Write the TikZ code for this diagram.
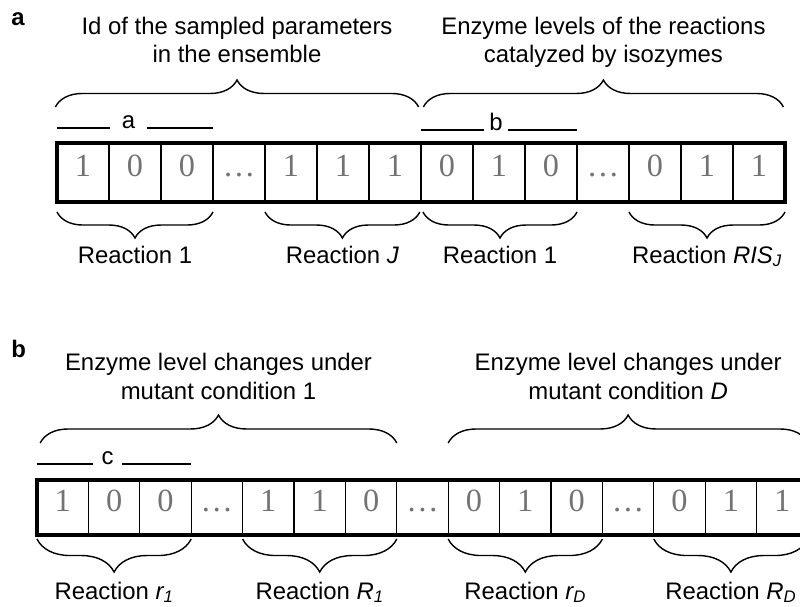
\documentclass[tikz,border=0pt]{standalone}
\usepackage{fontspec}
\setmainfont{Liberation Sans}
\newfontfamily\digitfont{Liberation Serif}
\usetikzlibrary{positioning,decorations.pathreplacing}
\definecolor{cellgray}{RGB}{115,115,115}

\tikzset{
  cell/.style={draw,line width=0.9pt,inner sep=0pt,outer sep=0pt,
    font=\digitfont\fontsize{23}{23}\selectfont,text=cellgray,
    text height=0.68em,text depth=0.15em},
  outline/.style={line width=2.2pt},
  curly/.style={decorate,decoration={brace,amplitude=#1},line width=1pt},
  title/.style={align=center,inner sep=0pt,text depth=0pt},
  reaction/.style={inner sep=0pt,anchor=base},
  tag/.style={inner xsep=#1,inner ysep=0pt,anchor=base},
  panel/.style={inner sep=0pt,anchor=base west,font=\bfseries\fontsize{17}{20}\selectfont},
  rule/.style={line width=0.9pt},
}

\begin{document}
\begin{tikzpicture}[x=0.025cm,y=-0.025cm,font=\fontsize{17}{20}\selectfont]
\useasboundingbox (0,0) rectangle (800,606);
% panel a
\node[panel] (pa) at (11,25) {a};
\foreach \v [count=\i] in {1,0,0,\dots,1,1,1,0,1,0,\dots,0,1,1}
  \node[cell,minimum width=1.3cm,minimum height=1.475cm] (ca\i) at ({31+52*\i},172.5) {\v};
\draw[outline] (ca1.north west) rectangle (ca14.south east);
% braces above row a
\draw[curly=0.675cm] ([xshift=-0.04cm,yshift=0.9cm]ca1.north west) -- ([xshift=-0.06cm,yshift=0.9cm]ca7.north east)
  node[title,midway,above=1.1cm] {Id of the sampled parameters\\in the ensemble};
\draw[curly=0.675cm] ([xshift=0.06cm,yshift=0.9cm]ca8.north west) -- ([xshift=-0.04cm,yshift=0.9cm]ca14.north east)
  node[title,midway,above=1.1cm] {Enzyme levels of the reactions\\catalyzed by isozymes};
% a, b
\node[tag=0.3cm] (la) at (128.5,128) {a};
\draw[rule] (ca1.west |- la.base) -- (la.base west) (la.base east) -- (ca3.east |- la.base);
\node[tag=0.13cm] (lb) at (496,130) {b};
\draw[rule] (ca8.west |- lb.base) -- (lb.base west) (lb.base east) -- (ca10.east |- lb.base);
% braces below row a
\draw[curly=0.65cm] ([yshift=-0.25cm]ca3.south east) -- ([yshift=-0.25cm]ca1.south west)
  node[reaction,midway,yshift=-1.275cm] {Reaction 1};
\draw[curly=0.65cm] ([xshift=-0.03cm,yshift=-0.25cm]ca7.south east) -- ([yshift=-0.25cm]ca5.south west)
  node[reaction,midway,yshift=-1.275cm] {Reaction \textit{J}};
\draw[curly=0.65cm] ([yshift=-0.25cm]ca10.south east) -- ([xshift=0.05cm,yshift=-0.25cm]ca8.south west)
  node[reaction,midway,yshift=-1.275cm] {Reaction 1};
\draw[curly=0.65cm] ([yshift=-0.25cm]ca14.south east) -- ([yshift=-0.25cm]ca12.south west)
  node[reaction,midway,yshift=-1.275cm] {Reaction \textit{RIS\textsubscript{J}}};

% panel b
\node[panel] (pb) at (11,357) {b};
\foreach \v [count=\i] in {1,0,0,\dots,1,1,0,\dots,0,1,0,\dots,0,1,1}
  \node[cell,minimum width=1.285cm,minimum height=1.375cm] (cb\i) at ({11.3+51.4*\i},507.5) {\v};
\draw[outline] (cb1.north west) rectangle (cb15.south east);
% braces above row b
\draw[curly=0.7cm] ([xshift=0.08cm,yshift=0.925cm]cb1.north west) -- ([yshift=0.925cm]cb7.north east)
  node[title,midway,above=1.08cm] {Enzyme level changes under\\mutant condition 1};
\draw[curly=0.7cm] ([yshift=0.925cm]cb9.north west) -- ([yshift=0.925cm]cb15.north east)
  node[title,midway,above=1.08cm] {Enzyme level changes under\\mutant condition \textit{D}};
% c
\node[tag=0.21cm] (lc) at (107.5,464) {c};
\draw[rule] (cb1.west |- lc.base) -- (lc.base west) (lc.base east) -- (cb3.east |- lc.base);
% braces below row b
\draw[curly=0.825cm] ([yshift=-0.1cm]cb3.south east) -- ([yshift=-0.1cm]cb1.south west)
  node[reaction,midway,yshift=-1.5cm] {Reaction \textit{r\textsubscript{1}}};
\draw[curly=0.825cm] ([yshift=-0.1cm]cb7.south east) -- ([yshift=-0.1cm]cb5.south west)
  node[reaction,midway,yshift=-1.5cm] {Reaction \textit{R\textsubscript{1}}};
\draw[curly=0.825cm] ([yshift=-0.1cm]cb11.south east) -- ([yshift=-0.1cm]cb9.south west)
  node[reaction,midway,yshift=-1.5cm] {Reaction \textit{r\textsubscript{D}}};
\draw[curly=0.825cm] ([yshift=-0.1cm]cb15.south east) -- ([yshift=-0.1cm]cb13.south west)
  node[reaction,midway,yshift=-1.5cm] {Reaction \textit{R\textsubscript{D}}};
\end{tikzpicture}
\end{document}
